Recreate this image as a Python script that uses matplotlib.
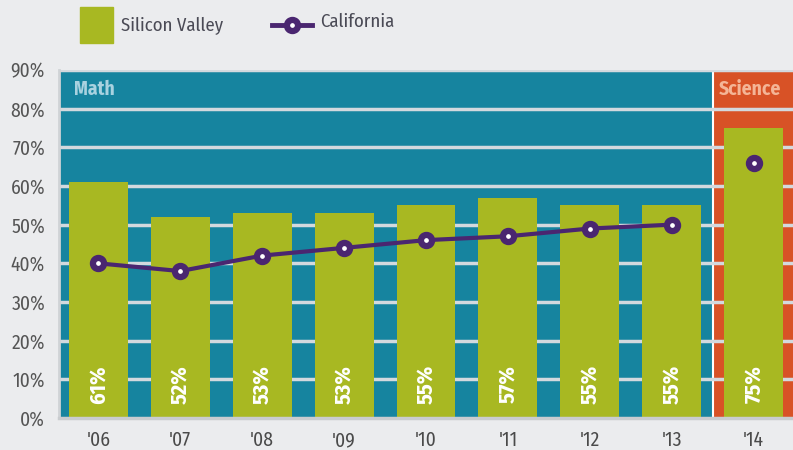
import matplotlib.pyplot as plt
import matplotlib.font_manager as fm
import numpy as np

years = ["'06", "'07", "'08", "'09", "'10", "'11", "'12", "'13", "'14"]
silicon_valley = [61, 52, 53, 53, 55, 57, 55, 55, 75]
california = [40, 38, 42, 44, 46, 47, 49, 50, 66]
y_ticks = [0, 10, 20, 30, 40, 50, 60, 70, 80, 90]

BG = "#EBECEE"
BLUE = "#16849F"
ORANGE = "#D85226"
GREEN = "#A8B822"
PURPLE = "#4A2670"
GRID = "#D3D9DE"

names = {f.name for f in fm.fontManager.ttflist}
candidates = ["Fira Sans Condensed", "PT Sans Narrow", "Roboto Condensed",
              "Open Sans Condensed", "Encode Sans Condensed",
              "Liberation Sans Narrow"]
narrow = next((c for c in candidates if c in names), "DejaVu Sans")
plt.rcParams["font.family"] = [narrow, "DejaVu Sans"]

fig = plt.figure(figsize=(7.93, 4.5), dpi=100, facecolor=BG)
ax = fig.add_axes([59 / 793, 32 / 450, 734 / 793, 348 / 450])
ax.set_facecolor(BG)

x = np.arange(len(years))
n_math = len(years) - 1
ax.set_xlim(-0.48, 8.48)
ax.set_ylim(0, 90)

# subject panels behind everything
ax.axvspan(-0.48, n_math - 0.5, color=BLUE, zorder=0, lw=0)
ax.axvspan(n_math - 0.5, 8.48, color=ORANGE, zorder=0, lw=0)
ax.axvline(n_math - 0.5, color="white", lw=1.5, zorder=0.5)

for t in y_ticks[1:]:
    ax.axhline(t, color=GRID, lw=2.5, zorder=1)

ax.bar(x, silicon_valley, width=0.72, color=GREEN, zorder=2)
for xi, v in zip(x, silicon_valley):
    ax.text(xi, 8.7, f"{v}%", rotation=90, ha="center", va="center",
            color="white", fontsize=16, fontweight="bold", zorder=5)

ax.plot(x[:n_math], california[:n_math], color=PURPLE, lw=3, zorder=3)
ax.plot(x, california, ls="none", marker="o", ms=8, mfc="white",
        mec=PURPLE, mew=4.5, zorder=4)

ax.text(-0.3, 85.0, "Math", color="#A8D2E0", fontsize=14,
        fontweight="bold", va="center", ha="left", zorder=5)
ax.text(n_math - 0.43, 85.0, "Science", color="#F4B596", fontsize=14,
        fontweight="bold", va="center", ha="left", zorder=5)

ax.set_yticks(y_ticks)
ax.set_yticklabels([f"{t}%" for t in y_ticks], color="#555555", fontsize=14)
ax.set_xticks(x)
ax.set_xticklabels(years, color="#4A4A4A", fontsize=14)
ax.tick_params(length=0, pad=9)
ax.tick_params(axis="y", pad=10)

for side in ("top", "right"):
    ax.spines[side].set_visible(False)
ax.spines["left"].set_color("#D0D3D6")
ax.spines["left"].set_linewidth(2)
ax.spines["bottom"].set_color("#C9CCCF")
ax.spines["bottom"].set_linewidth(2.5)

# legend row
lax = fig.add_axes([0, 0, 1, 1], facecolor="none")
lax.set_xlim(0, 793)
lax.set_ylim(450, 0)
lax.axis("off")
lax.add_patch(plt.Rectangle((80, 7), 33, 36, color=GREEN))
lax.text(121, 25, "Silicon Valley", fontsize=13.5, color="#4A4A55", va="center")
lax.plot([272, 312], [25, 25], color=PURPLE, lw=3.5)
lax.plot([292], [25], marker="o", ms=8, mfc="white", mec=PURPLE, mew=4.5)
lax.text(320, 22, "California", fontsize=13.5, color="#4A4A55", va="center")

fig.savefig("out.png", dpi=100, facecolor=BG)
